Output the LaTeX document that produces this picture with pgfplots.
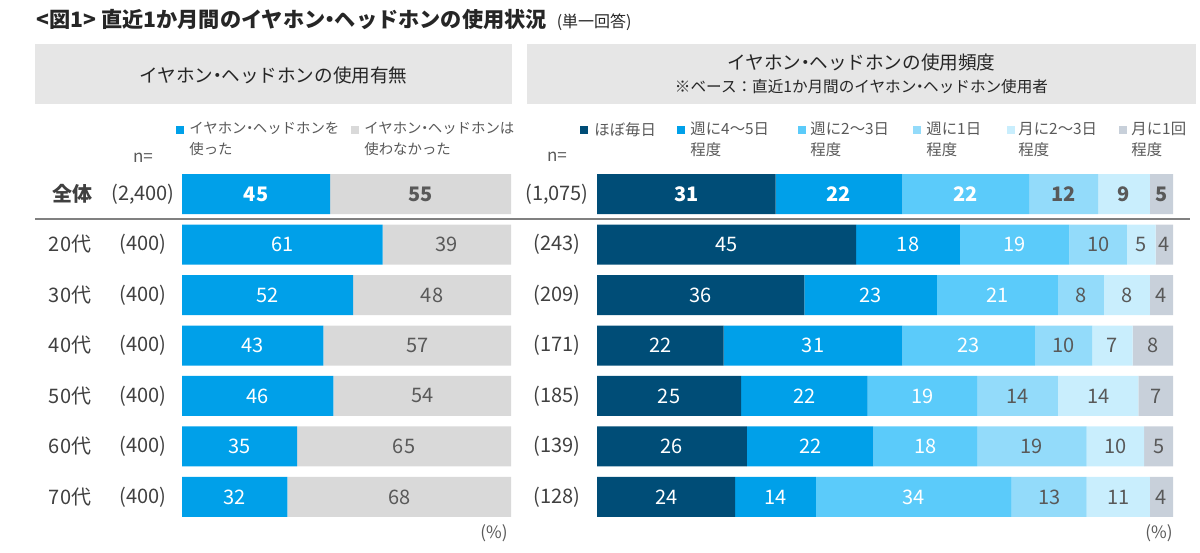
\documentclass[border=0pt]{standalone}
\usepackage{pgfplots}
\pgfplotsset{compat=1.18}
\usepackage{pgfplotstable}
\usepackage{fontspec}
\setmainfont{Noto Sans CJK JP}
\definecolor{cBlue}{HTML}{00A0E9}
\definecolor{cGray}{HTML}{D9D9D9}
\definecolor{cDA}{HTML}{004D77}
\definecolor{cDB}{HTML}{00A0E9}
\definecolor{cDC}{HTML}{5BCBFA}
\definecolor{cDD}{HTML}{93DBFA}
\definecolor{cDE}{HTML}{C9EEFD}
\definecolor{cDF}{HTML}{C8D0DA}
\definecolor{cTxt}{HTML}{595959}
\definecolor{cLab}{HTML}{404040}
\definecolor{cHead}{HTML}{E6E6E6}
\newcommand\dt{\kern-0.28em・\kern-0.28em}

\pgfplotstableread{
r a b
0 45 55
1 61 39
2 52 48
3 43 57
4 46 54
5 35 65
6 32 68
}\leftdata
\pgfplotstableread{
r a b c d e f
0 31 22 22 12 9 5
1 45 18 19 10 5 4
2 36 23 21 8 8 4
3 22 31 23 10 7 8
4 25 22 19 14 14 7
5 26 22 18 19 10 5
6 24 14 34 13 11 4
}\rightdata
\pgfplotstablecreatecol[create col/expr={\thisrow{a}/2}]{ma}\leftdata
\pgfplotstablecreatecol[create col/expr={\thisrow{a}+\thisrow{b}/2}]{mb}\leftdata
\pgfplotstablecreatecol[create col/expr={\thisrow{a}/2}]{ma}\rightdata
\pgfplotstablecreatecol[create col/expr={\thisrow{a}+\thisrow{b}/2}]{mb}\rightdata
\pgfplotstablecreatecol[create col/expr={\thisrow{a}+\thisrow{b}+\thisrow{c}/2}]{mc}\rightdata
\pgfplotstablecreatecol[create col/expr={\thisrow{a}+\thisrow{b}+\thisrow{c}+\thisrow{d}/2}]{md}\rightdata
\pgfplotstablecreatecol[create col/expr={\thisrow{a}+\thisrow{b}+\thisrow{c}+\thisrow{d}+\thisrow{e}/2}]{me}\rightdata
\pgfplotstablecreatecol[create col/expr={(\thisrow{a}+\thisrow{b}+\thisrow{c}+\thisrow{d}+\thisrow{e}+100)/2}]{mf}\rightdata

\pgfplotsset{
  basebars/.style={scale only axis, anchor=north west, height=176.75pt,
    xmin=0, xmax=100, ymin=-0.5, ymax=6.5, y dir=reverse, hide axis},
  labelaxis/.style={basebars,
    point meta=explicit symbolic,
    nodes near coords,
    every node near coord/.append style={anchor=center, inner sep=0pt,
      font=\fontsize{10}{12}\selectfont}},
}
\newcommand\lbl[4]{%
  \addplot[draw=none, mark=none, skip coords between index={0}{1},
    every node near coord/.append style={text=#4}] table[x=#2,y=r,meta=#3]{#1};
  \addplot[draw=none, mark=none, skip coords between index={1}{7},
    every node near coord/.append style={text=#4, font=\fontsize{10}{12}\selectfont\bfseries}] table[x=#2,y=r,meta=#3]{#1};
}

\begin{document}
\begin{tikzpicture}
\useasboundingbox (0,0) rectangle (600pt,-276pt);
\begin{scope}[x=0.5pt,y=-0.5pt]
\fill[cHead] (35,44) rectangle (512,104);
\fill[cHead] (527,44) rectangle (1196,104);
\node[anchor=west, text=black!85, inner sep=0pt] at (36,20)
  {\fontsize{10.6}{12}\selectfont\bfseries <図1> 直近1か月間のイヤホン\dt ヘッドホンの使用状況\hspace{5pt}\mdseries\fontsize{8}{9}\selectfont (単一回答)};
\node[text=black!85, font=\fontsize{9.3}{11}\selectfont] at (273.5,75) {イヤホン\dt ヘッドホンの使用有無};
\node[text=black!85, font=\fontsize{9.3}{11}\selectfont] at (861.5,62) {イヤホン\dt ヘッドホンの使用頻度};
\node[text=black!85, font=\fontsize{7.8}{9}\selectfont] at (861.5,87) {※ベース：直近1か月間のイヤホン\dt ヘッドホン使用者};
\tikzset{lt/.style={anchor=north west, inner sep=0pt, align=left, text=cTxt,
   font=\fontsize{7.7}{10.5}\selectfont}}
\fill[cBlue] (176,126) rectangle (184,134);
\node[lt, font=\fontsize{7.2}{10.5}\selectfont] at (189,122) {イヤホン\dt ヘッドホンを\\使った};
\fill[cGray] (351,126) rectangle (359,134);
\node[lt, font=\fontsize{7.2}{10.5}\selectfont] at (364,122) {イヤホン\dt ヘッドホンは\\使わなかった};
\node[text=cTxt, font=\fontsize{8.5}{10}\selectfont] at (143,158) {n=};
\node[text=cTxt, font=\fontsize{8.5}{10}\selectfont] at (557,157) {n=};
\fill[cDA] (580,126) rectangle (588,134);
\node[lt] at (594,122) {ほぼ毎日};
\fill[cDB] (677,126) rectangle (685,134);
\node[lt] at (690,122) {週に4～5日\\程度};
\fill[cDC] (798,126) rectangle (806,134);
\node[lt] at (810,122) {週に2～3日\\程度};
\fill[cDD] (913,126) rectangle (921,134);
\node[lt] at (926,122) {週に1日\\程度};
\fill[cDE] (1007,126) rectangle (1015,134);
\node[lt] at (1018,122) {月に2～3日\\程度};
\fill[cDF] (1119,126) rectangle (1127,134);
\node[lt] at (1131,122) {月に1回\\程度};
\tikzset{rl/.style={text=cLab, font=\fontsize{10}{12}\selectfont, inner sep=0pt}}
\node[rl, font=\fontsize{10}{12}\selectfont\bfseries] at (72,194) {全体};
\node[rl] at (143,194) {(2,400)};
\node[rl] at (557,194) {(1,075)};
\foreach \lab/\nl/\nr [count=\i] in {20代/400/243, 30代/400/209, 40代/400/171, 50代/400/185, 60代/400/139, 70代/400/128}{
  \node[rl] at (70,194+50.5*\i) {\lab};
  \node[rl] at (143,194+50.5*\i) {(\nl)};
  \node[rl] at (557,194+50.5*\i) {(\nr)};
}
\draw[gray, line width=1pt] (35,219) -- (1190,219);
\node[text=cTxt, font=\fontsize{8.5}{10}\selectfont] at (494,533) {(\%)};
\node[text=cTxt, font=\fontsize{8.5}{10}\selectfont] at (1159,533) {(\%)};
\end{scope}

\begin{axis}[basebars, at={(91pt,-84.375pt)}, width=164.5pt, xbar stacked, bar width=20pt]
\addplot[fill=cBlue, draw=none] table[x=a,y=r]{\leftdata};
\addplot[fill=cGray, draw=none] table[x=b,y=r]{\leftdata};
\end{axis}
\begin{axis}[labelaxis, at={(91pt,-84.375pt)}, width=164.5pt]
\lbl{\leftdata}{ma}{a}{white}
\lbl{\leftdata}{mb}{b}{cTxt}
\end{axis}

\begin{axis}[basebars, at={(298.5pt,-84.375pt)}, width=288pt, xbar stacked, bar width=20pt]
\addplot[fill=cDA, draw=none] table[x=a,y=r]{\rightdata};
\addplot[fill=cDB, draw=none] table[x=b,y=r]{\rightdata};
\addplot[fill=cDC, draw=none] table[x=c,y=r]{\rightdata};
\addplot[fill=cDD, draw=none] table[x=d,y=r]{\rightdata};
\addplot[fill=cDE, draw=none] table[x=e,y=r]{\rightdata};
\addplot[fill=cDF, draw=none] table[x=f,y=r]{\rightdata};
\end{axis}
\begin{axis}[labelaxis, at={(298.5pt,-84.375pt)}, width=288pt]
\lbl{\rightdata}{ma}{a}{white}
\lbl{\rightdata}{mb}{b}{white}
\lbl{\rightdata}{mc}{c}{white}
\lbl{\rightdata}{md}{d}{cTxt}
\lbl{\rightdata}{me}{e}{cTxt}
\lbl{\rightdata}{mf}{f}{cTxt}
\end{axis}
\end{tikzpicture}
\end{document}
